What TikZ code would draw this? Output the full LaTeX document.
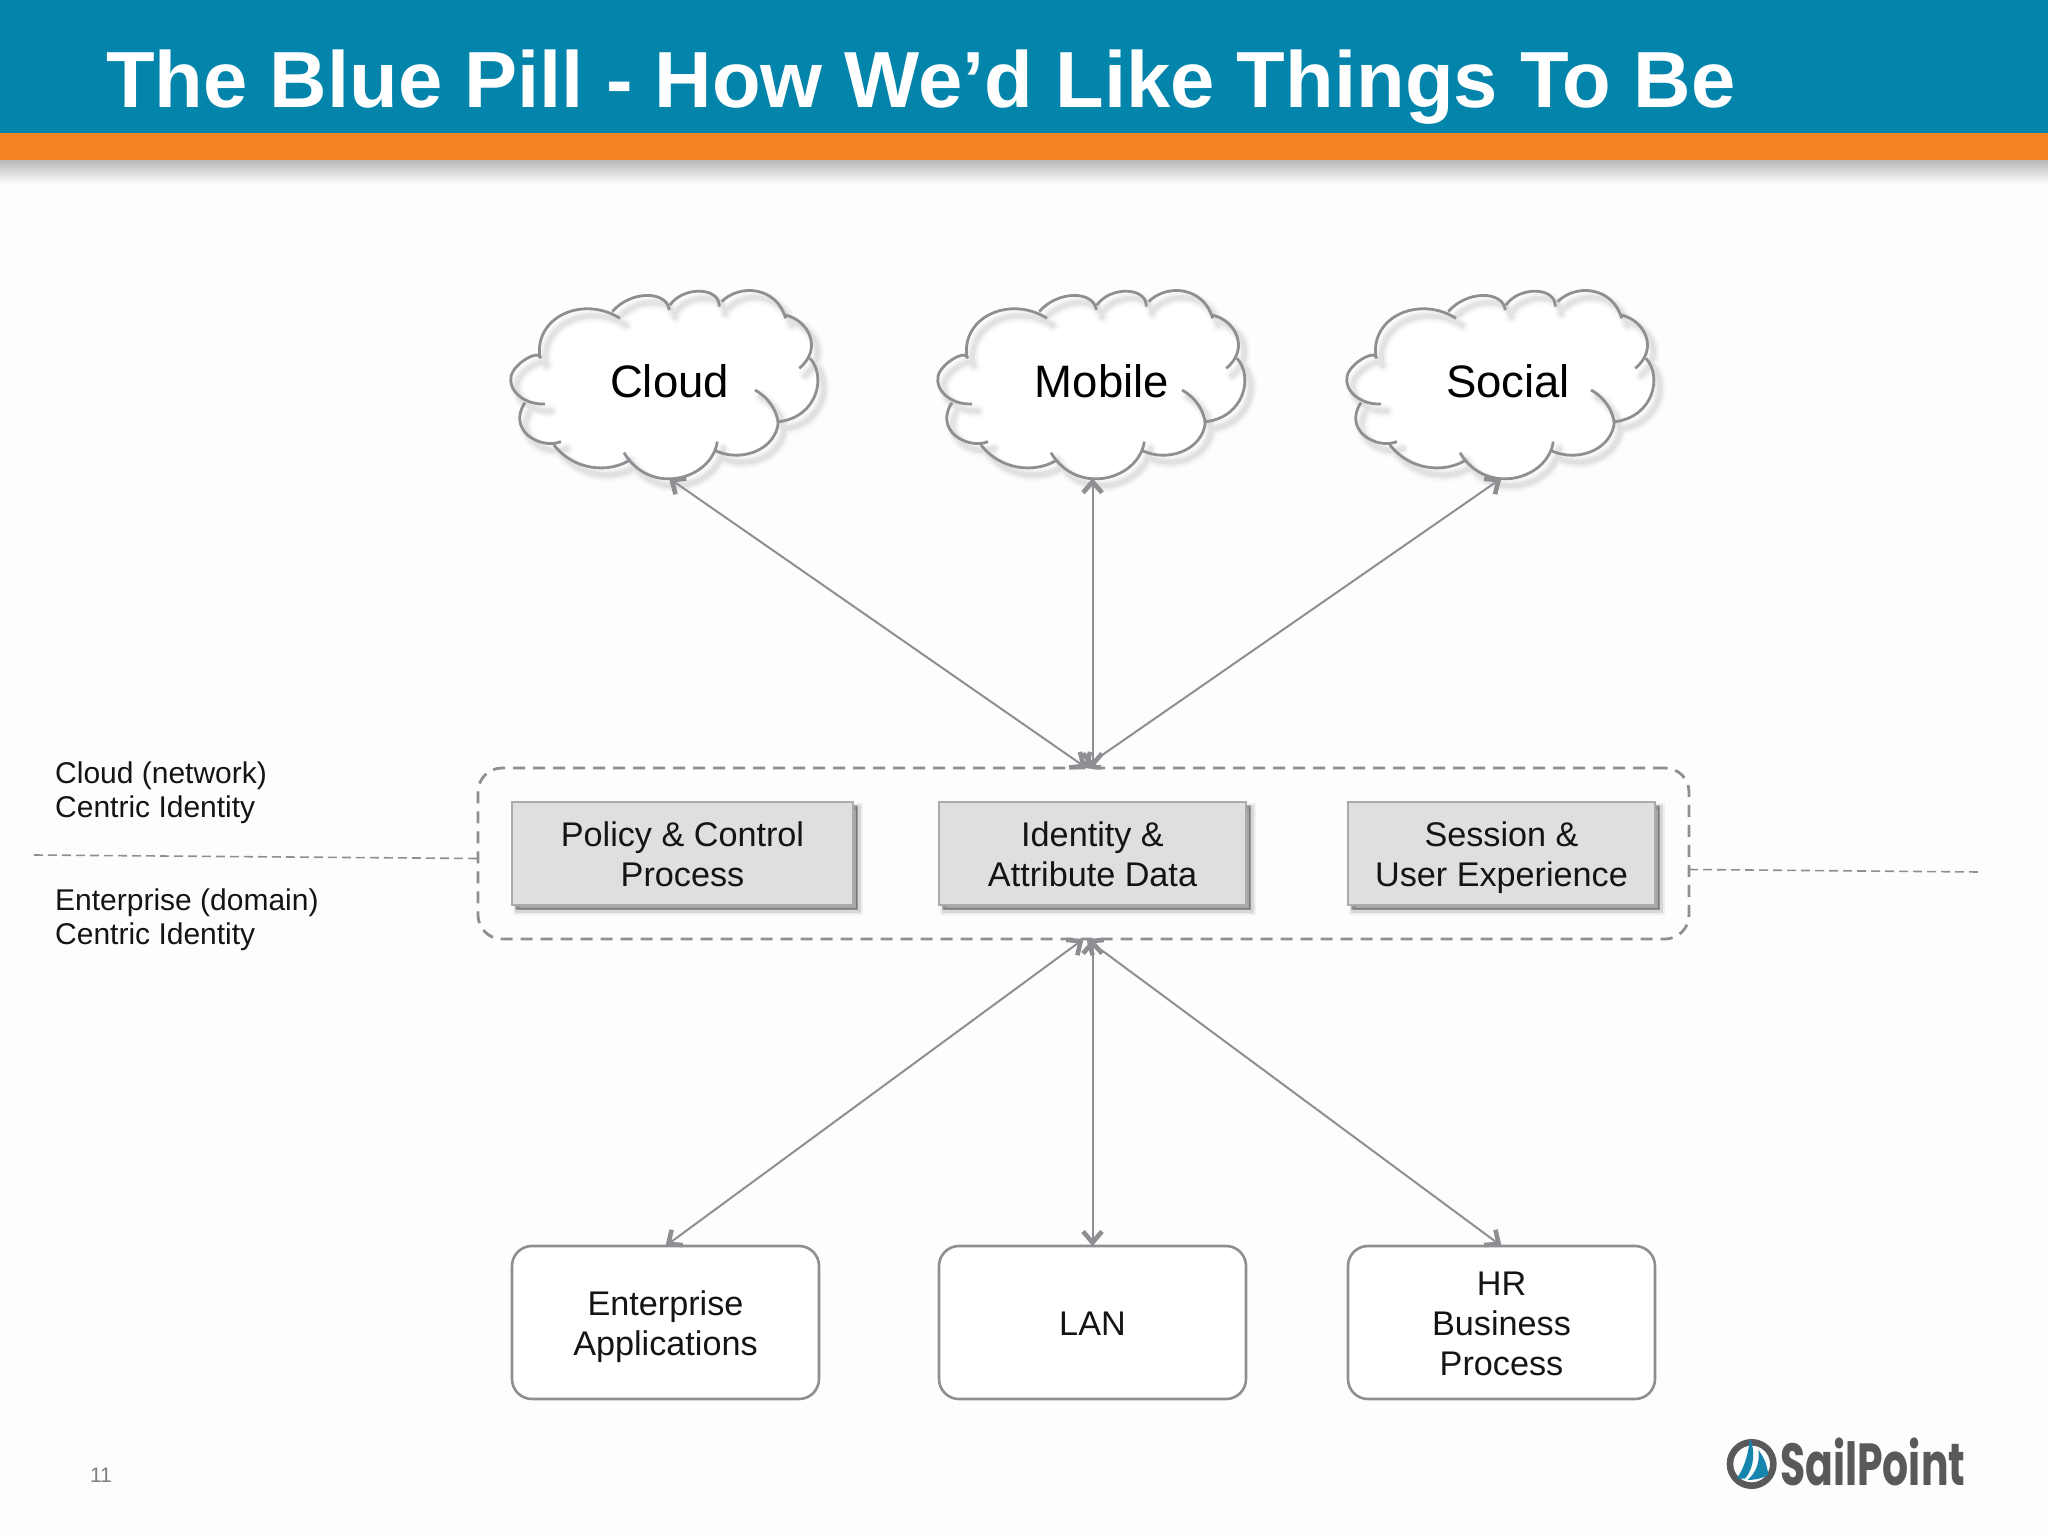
\documentclass[tikz,border=0pt]{standalone}
\usepackage{fontspec}
\setmainfont{Liberation Sans}
\newfontfamily\logofont[Scale=1]{Poppins}
\usetikzlibrary{arrows.meta,positioning}
\definecolor{bgc}{HTML}{FDFDFD}
\definecolor{headblue}{HTML}{0284AB}
\definecolor{headorange}{HTML}{F58220}
\definecolor{linegray}{HTML}{8F8F93}
\definecolor{boxfill}{HTML}{DFDEE1}
\definecolor{logogray}{HTML}{58595B}
\definecolor{logoblue}{HTML}{1585AE}
\definecolor{inkc}{HTML}{141414}
\newcommand{\topfix}{\rule{0pt}{26.5pt}}
\newcommand{\cloudfillpath}{
  (178,285) .. controls (165,170) and (300,100) .. (400,155)
  .. controls (450,92) and (540,88) .. (572,132)
  .. controls (610,78) and (690,75) .. (722,128)
  .. controls (780,70) and (890,80) .. (915,165)
  .. controls (985,180) and (1030,265) .. (990,295)
  .. controls (1040,350) and (1012,470) .. (898,485)
  .. controls (875,575) and (780,605) .. (708,573)
  .. controls (695,660) and (510,710) .. (440,600)
  .. controls (380,640) and (280,630) .. (222,555)
  .. controls (180,570) and (80,510) .. (135,428)
  .. controls (85,400) and (85,370) .. (93,350)
  .. controls (100,310) and (140,285) .. (178,285) -- cycle}
\newcommand{\cloudarcs}{
  (180,295) .. controls (160,170) and (310,105) .. (420,175)
  (397,155) .. controls (450,92) and (560,90) .. (568,150)
  (570,135) .. controls (610,78) and (720,80) .. (718,140)
  (725,125) .. controls (780,70) and (890,80) .. (917,175)
  (915,165) .. controls (985,180) and (1030,265) .. (958,325)
  (990,295) .. controls (1040,350) and (1012,470) .. (898,485)
  (825,390) .. controls (880,420) and (900,480) .. (893,500)
  .. controls (875,575) and (780,605) .. (708,573)
  (712,545) .. controls (695,660) and (510,710) .. (432,578)
  (445,603) .. controls (380,640) and (280,630) .. (222,555)
  (243,545) .. controls (180,570) and (80,510) .. (135,428)
  (195,432) .. controls (130,435) and (85,390) .. (93,350)
  .. controls (100,310) and (180,265) .. (183,295)}
\newcommand{\cloudshape}[1]{%
  \begin{scope}[shift={(#1,260)},x=0.3333pt,y=-0.3333pt]
    \fill[white] \cloudfillpath;
    \begin{scope}[xshift=6pt,yshift=-7pt]
      \draw[black,line width=13pt,opacity=.025,line cap=round] \cloudarcs;
      \draw[black,line width=9pt,opacity=.035,line cap=round] \cloudarcs;
      \draw[black,line width=5pt,opacity=.05,line cap=round] \cloudarcs;
    \end{scope}
    \draw[linegray,line width=2.8pt] \cloudarcs;
  \end{scope}}
\tikzset{
  x=1pt,y=-1pt,
  cloudtext/.style={font=\fontsize{45.5}{52}\selectfont,text=black,minimum width=240pt,minimum height=194pt,inner sep=0pt},
  softshadow/.style={
    preaction={draw=black,fill=black,line width=9pt,opacity=.05,transform canvas={xshift=5pt,yshift=-5pt}},
    preaction={draw=black,fill=black,line width=5pt,opacity=.1,transform canvas={xshift=5pt,yshift=-5pt}},
    preaction={draw=black,fill=black,line width=2pt,opacity=.18,transform canvas={xshift=4pt,yshift=-4pt}}},
  midbox/.style={softshadow,draw=linegray!75,line width=1.6pt,fill=boxfill,text=inkc,align=center,inner sep=0pt,outer sep=0pt,minimum height=103pt,font=\fontsize{34.2}{40}\selectfont},
  lowbox/.style={draw=linegray,line width=2.6pt,fill=white,rounded corners=20pt,text=inkc,align=center,inner sep=0pt,outer sep=0pt,minimum width=307pt,minimum height=153pt,font=\fontsize{34.2}{40}\selectfont},
  hubbox/.style={draw=linegray,line width=2.8pt,dash pattern=on 12pt off 8pt,rounded corners=24pt,inner sep=0pt,outer sep=0pt,minimum width=1211pt,minimum height=171pt},
  linkarrow/.style={draw=linegray,line width=2pt,{Straight Barb[length=11pt,width=19pt,line width=4.6pt]}-{Straight Barb[length=11pt,width=19pt,line width=4.6pt]}},
  sideline/.style={draw=linegray,line width=1.6pt,dash pattern=on 9pt off 5pt},
  sidelabel/.style={anchor=west,align=left,text=inkc,inner sep=0pt,font=\fontsize{30}{34}\selectfont}
}
\begin{document}
\begin{tikzpicture}
\useasboundingbox (0,0) rectangle (2048,1536);
\fill[bgc] (0,0) rectangle (2048,1536);
% header
\shade[top color=black!28,bottom color=bgc] (0,160) rectangle (2048,184);
\fill[headblue] (0,0) rectangle (2048,133);
\fill[headorange] (0,133) rectangle (2048,160);
\node[anchor=base west,inner sep=0pt,text=white,font=\fontsize{79.6}{90}\selectfont\bfseries] (title) at (106,108) {The Blue Pill - How We’d Like Things To Be};
% clouds
\cloudshape{480}
\cloudshape{907}
\cloudshape{1316}
\node[cloudtext] (cloudA) at (669.5,381) {Cloud};
\node[cloudtext] (cloudB) at (1102,381) {Mobile};
\node[cloudtext] (cloudC) at (1508,381) {Social};
% hub
\node[hubbox] (hub) at (1083.5,853.5) {};
\node[midbox,minimum width=341pt] (policy) at (682.5,853.5) {\topfix Policy \& Control\\Process};
\node[midbox,minimum width=307pt] (ident) at (1092.5,853.5) {\topfix Identity \&\\Attribute Data};
\node[midbox,minimum width=307pt] (session) at (1501.5,853.5) {\topfix Session \&\\\smash{User Experience}};
% lower boxes
\node[lowbox] (ent) at (665.5,1322.5) {\topfix Enterprise\\\smash{Applications}};
\node[lowbox] (lan) at (1092.5,1322.5) {\topfix LAN};
\node[lowbox] (hr) at (1501.5,1322.5) {\topfix HR\\Business\\Process};
% connectors
\draw[linkarrow] (cloudA.south -| 669,0) -- ([xshift=3pt]hub.north);
\draw[linkarrow] (ident.north |- cloudB.south) -- (ident.north |- hub.north);
\draw[linkarrow] (hr.north |- cloudC.south) -- (hub.north);
\draw[linkarrow] (hub.south) -- (ent.north);
\draw[linkarrow] (lan.north |- hub.south) -- (lan.north);
\draw[linkarrow] ([xshift=3pt]hub.south) -- (hr.north);
% side lines and labels
\coordinate (leftfree) at (34,855);
\coordinate (rightfree) at (1980,872);
\draw[sideline] (leftfree) -- ([yshift=-5pt]hub.west);
\draw[sideline] ([yshift=-16pt]hub.east) -- (rightfree);
\node[sidelabel] (cloudlabel) at (55,792.6) {Cloud (network)\\Centric Identity};
\node[sidelabel] (entlabel) at (55,919.6) {Enterprise (domain)\\Centric Identity};
\node[anchor=center,inner sep=0pt,text=black!50,font=\fontsize{21}{24}\selectfont] (pagenum) at (101,1475) {11};
% logo
\begin{scope}[shift={(1680,1400)},x=0.3333pt,y=-0.3333pt]
  \draw[logogray,line width=6.6pt] (215,192) circle[radius=21.7pt];
  \fill[logoblue] (210,115) .. controls (225,150) and (225,200) .. (195,236) -- (170,236) .. controls (195,200) and (205,160) .. (210,115) -- cycle;
  \fill[logoblue] (235,150) .. controls (255,175) and (262,200) .. (265,225) .. controls (245,235) and (225,240) .. (203,240) .. controls (230,215) and (240,185) .. (235,150) -- cycle;
\end{scope}
\node[anchor=base west,inner sep=0pt,text=logogray,font=\logofont\fontsize{58}{60}\selectfont\bfseries] (logotext) at (1780,1485) {\resizebox{185pt}{!}{\scalebox{1}[1.45]{SailPoint}}};
\end{tikzpicture}
\end{document}
